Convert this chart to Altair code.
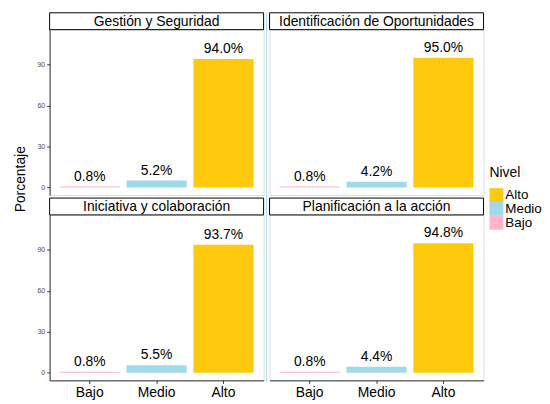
import altair as alt
import pandas as pd

panels = ["Gestión y Seguridad", "Identificación de Oportunidades",
          "Iniciativa y colaboración", "Planificación a la acción"]
niveles = ["Bajo", "Medio", "Alto"]
bajo = [0.8, 0.8, 0.8, 0.8]
medio = [5.2, 4.2, 5.5, 4.4]
alto = [94.0, 95.0, 93.7, 94.8]
legend_order = ["Alto", "Medio", "Bajo"]
legend_colors = ["#FFC90E", "#A0DAEA", "#FFB5CB"]
y_ticks = [0, 30, 60, 90]

rows = []
for p, b, m, a in zip(panels, bajo, medio, alto):
    for n, v in zip(niveles, [b, m, a]):
        rows.append({"Panel": p, "Nivel": n, "Porcentaje": v, "Label": f"{v:.1f}%"})
data = pd.DataFrame(rows)

FONT = "Liberation Sans"
W = 216
H = 167


def panel(i, show_y, show_x):
    df = data[data.Panel == panels[i]]
    base = alt.Chart(df)
    if show_x:
        xaxis = alt.Axis(title=None, labelFontSize=14, labelColor="black", tickSize=3,
                         tickColor="#333333", domainColor="#333333", labelAngle=0,
                         labelPadding=2, labelFont=FONT)
    else:
        xaxis = None
    if show_y:
        yaxis = alt.Axis(title=None, values=y_ticks, labelFontSize=7, labelColor="#4D4D4D",
                         tickSize=3, tickColor="#333333", domainColor="#333333", grid=False,
                         labelPadding=2, labelFont=FONT)
    else:
        yaxis = None
    x = alt.X("Nivel:N", sort=niveles, axis=xaxis,
              scale=alt.Scale(paddingInner=0.1, paddingOuter=0.15))
    y = alt.Y("Porcentaje:Q", axis=yaxis,
              scale=alt.Scale(domain=[-5.5, 115.5], nice=False, zero=False))
    bars = base.mark_bar().encode(
        x=x, y=y, y2=alt.datum(0),
        color=alt.Color("Nivel:N",
                        scale=alt.Scale(domain=legend_order, range=legend_colors),
                        legend=alt.Legend(title="Nivel", orient="none", legendX=444, legendY=138,
                                          padding=0,
                                          titleFontSize=14, titleFontWeight="normal",
                                          labelFontSize=13.5, symbolType="square",
                                          symbolSize=196, symbolStrokeWidth=0,
                                          rowPadding=0, labelOffset=2, titlePadding=8,
                                          titleFont=FONT, labelFont=FONT))
    )
    labels = base.mark_text(baseline="bottom", dy=-3, fontSize=14, font=FONT,
                            color="black").encode(x=x, y=y, text="Label:N")
    sdf = pd.DataFrame({"t": [panels[i]]})
    strip_box = alt.Chart(sdf).mark_rect(fill="white", stroke="black", strokeWidth=1).encode(
        x=alt.value(0), x2=alt.value(W), y=alt.value(-17), y2=alt.value(0))
    strip_text = alt.Chart(sdf).mark_text(fontSize=14, font=FONT, color="black",
                                          baseline="middle").encode(
        text="t:N", x=alt.value(W / 2), y=alt.value(-8))
    layers = [bars, labels, strip_box, strip_text]
    if i == 0:
        ytitle = alt.Chart(sdf).mark_text(fontSize=14, font=FONT, color="black", angle=270,
                                          baseline="middle").encode(
            text=alt.value("Porcentaje"), x=alt.value(-29), y=alt.value(151))
        vline = alt.Chart(sdf).mark_rule(color="#ADD8E6", strokeWidth=1).encode(
            x=alt.value(W + 3), y=alt.value(-17), y2=alt.value(H + 10))
        layers += [ytitle, vline]
    if i == 2:
        vline2 = alt.Chart(sdf).mark_rule(color="#ADD8E6", strokeWidth=1).encode(
            x=alt.value(W + 3), y=alt.value(-12), y2=alt.value(H + 1))
        layers += [vline2]
    return alt.layer(*layers).properties(width=W, height=H)


chart = alt.concat(
    panel(0, True, False), panel(1, False, False),
    panel(2, True, True), panel(3, False, True),
    columns=2, spacing={"row": 20, "column": 6}, bounds="flush",
).properties(
    padding={"left": 5, "top": 2, "right": 0, "bottom": 0}
).resolve_scale(color="shared").configure_view(stroke=None).configure(font=FONT)

chart.save("out.html", embed_options={"renderer": "svg", "actions": False})
